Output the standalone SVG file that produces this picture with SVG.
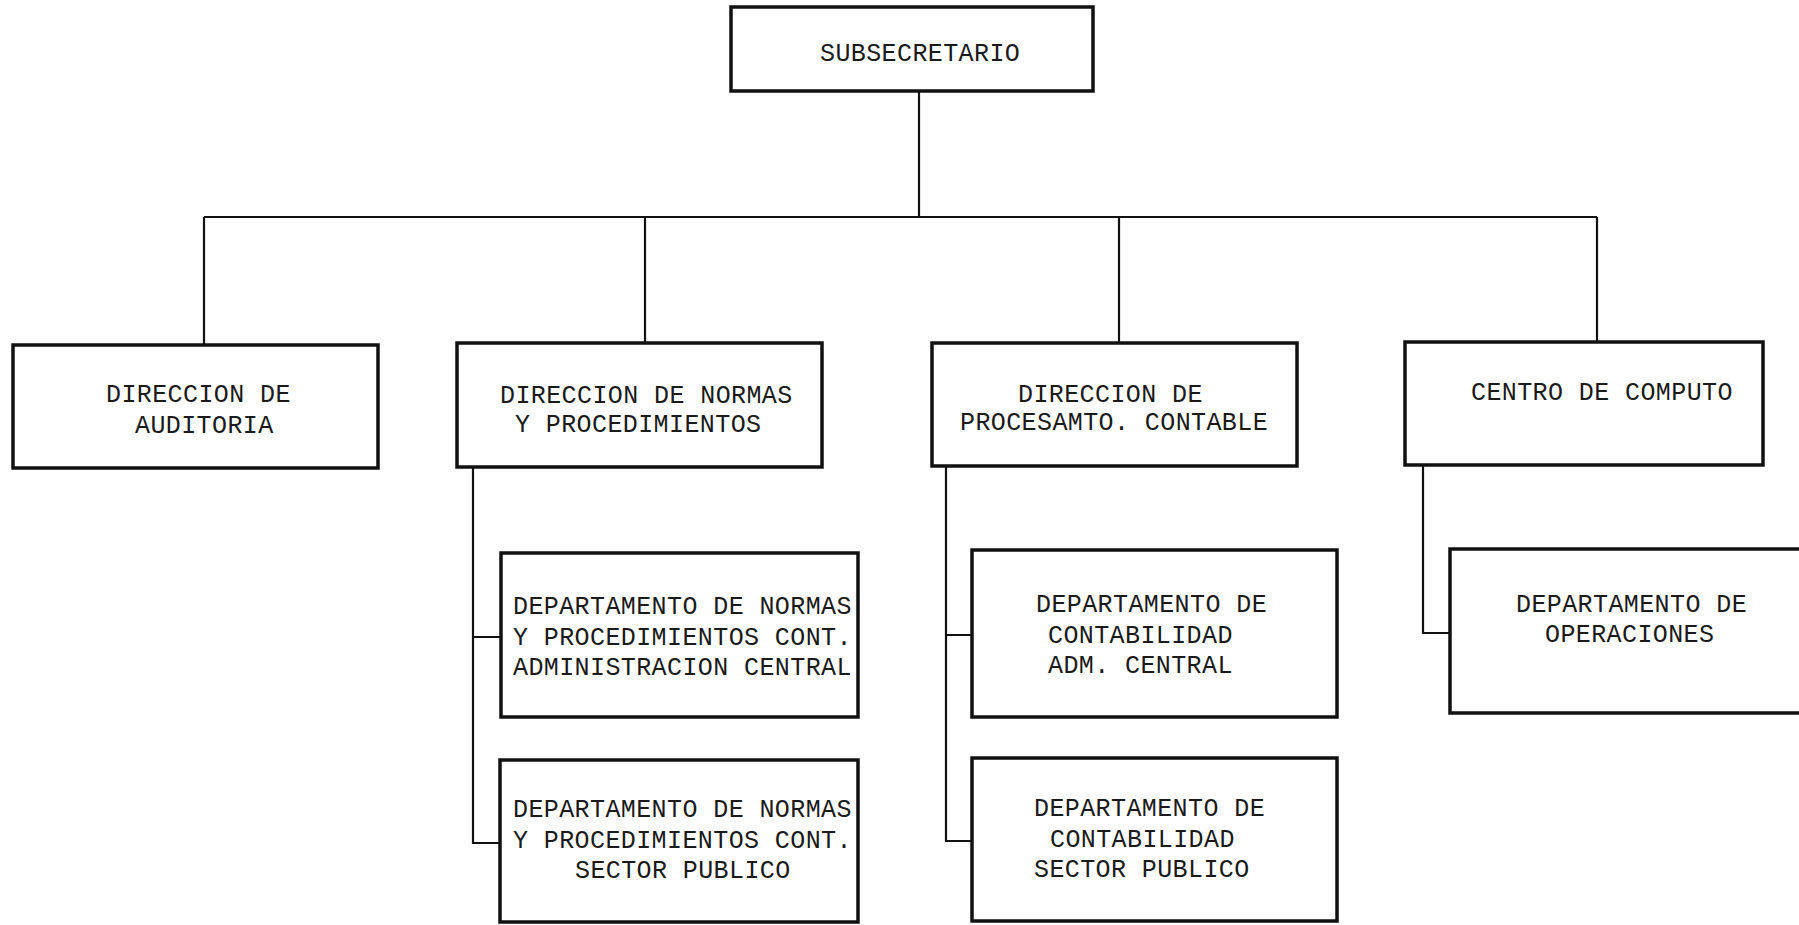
<svg xmlns="http://www.w3.org/2000/svg" width="1799" height="925" viewBox="0 0 1799 925">
<style>
.box{fill:#fff;stroke:#111;stroke-width:3.5}
.c{fill:none;stroke:#111;stroke-width:2.2}
text{font-family:"Liberation Mono","DejaVu Sans Mono",monospace;font-size:25px;fill:#1a1a1a;letter-spacing:0.4px}
</style>
<rect width="1799" height="925" fill="#fff"/>
<g id="connectors">
<path class="c" d="M919 91V217M204 217H1597M204 217V345M645 217V343M1119 217V343M1597 217V342"/>
<path class="c" d="M473 467V843H500M473 637H501"/>
<path class="c" d="M946 466V841H972M946 635H972"/>
<path class="c" d="M1423 465V633H1450"/>
</g>
<g id="subsecretario"><rect class="box" x="731" y="7" width="362" height="84"/><text x="820" y="61">SUBSECRETARIO</text></g>
<g id="dir-auditoria"><rect class="box" x="13" y="345" width="365" height="123"/><text x="106" y="402">DIRECCION DE</text><text x="135" y="433">AUDITORIA</text></g>
<g id="dir-normas"><rect class="box" x="457" y="343" width="365" height="124"/><text x="500" y="403">DIRECCION DE NORMAS</text><text x="515" y="432">Y PROCEDIMIENTOS</text></g>
<g id="dir-procesamto"><rect class="box" x="932" y="343" width="365" height="123"/><text x="1018" y="402">DIRECCION DE</text><text x="960" y="430">PROCESAMTO. CONTABLE</text></g>
<g id="centro-computo"><rect class="box" x="1405" y="342" width="358" height="123"/><text x="1471" y="400">CENTRO DE COMPUTO</text></g>
<g id="dep-normas-adm"><rect class="box" x="501" y="553" width="357" height="164"/><text x="513" y="614">DEPARTAMENTO DE NORMAS</text><text x="513" y="645">Y PROCEDIMIENTOS CONT.</text><text x="513" y="675">ADMINISTRACION CENTRAL</text></g>
<g id="dep-normas-sector"><rect class="box" x="500" y="760" width="358" height="162"/><text x="513" y="817">DEPARTAMENTO DE NORMAS</text><text x="513" y="848">Y PROCEDIMIENTOS CONT.</text><text x="575" y="878">SECTOR PUBLICO</text></g>
<g id="dep-contab-adm"><rect class="box" x="972" y="550" width="365" height="167"/><text x="1036" y="612">DEPARTAMENTO DE</text><text x="1048" y="643">CONTABILIDAD</text><text x="1048" y="673">ADM. CENTRAL</text></g>
<g id="dep-contab-sector"><rect class="box" x="972" y="758" width="365" height="163"/><text x="1034" y="816">DEPARTAMENTO DE</text><text x="1050" y="847">CONTABILIDAD</text><text x="1034" y="877">SECTOR PUBLICO</text></g>
<g id="dep-operaciones"><rect class="box" x="1450" y="549" width="400" height="164"/><text x="1516" y="612">DEPARTAMENTO DE</text><text x="1545" y="642">OPERACIONES</text></g>
</svg>
